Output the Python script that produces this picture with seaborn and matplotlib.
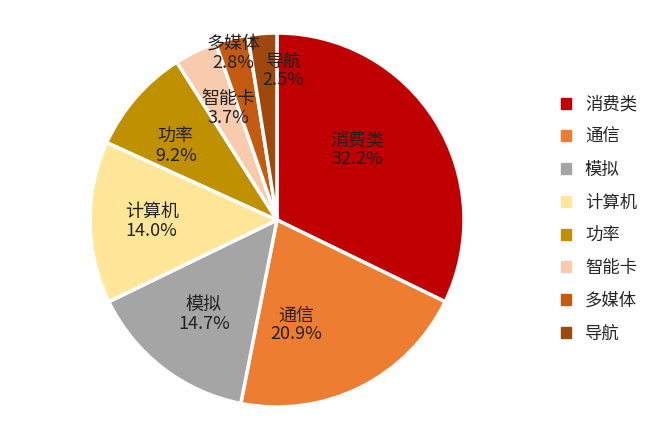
import matplotlib
matplotlib.use("Agg")
import matplotlib.pyplot as plt
import matplotlib.patches as mpatches
import numpy as np
import seaborn as sns

categories = ["消费类", "通信", "模拟", "计算机", "功率", "智能卡", "多媒体", "导航"]
shares = [32.2, 20.9, 14.7, 14.0, 9.2, 3.7, 2.8, 2.5]
colors = ["#C00000", "#ED7D31", "#A5A5A5", "#FFE699", "#BF9000", "#F8CBAD", "#C55A11", "#9E480E"]
# label placement: radius (fraction of pie radius) and angle nudge in degrees
label_dist = [0.57, 0.57, 0.64, 0.67, 0.67, 0.65, 0.92, 0.80]
label_turn = [9, -16, 0, 0, 5, -2, 0.5, -7]

sns.set_theme(style="white")
plt.rcParams["font.family"] = ["Noto Sans CJK SC", "DejaVu Sans"]

fig = plt.figure(figsize=(6.59, 4.43), dpi=100)
ax = fig.add_axes([90 / 659, 36 / 443, 374 / 659, 374 / 443])

wedges, _ = ax.pie(shares, colors=colors, startangle=90, counterclock=False,
                   wedgeprops=dict(edgecolor="white", linewidth=2.5))

for w, name, val, d, t in zip(wedges, categories, shares, label_dist, label_turn):
    ang = np.deg2rad((w.theta1 + w.theta2) / 2 + t)
    ax.text(d * np.cos(ang), d * np.sin(ang), f"{name}\n{val:.1f}%",
            ha="center", va="center", fontsize=13, color="#222222", linespacing=1.05)
ax.set_xlim(-1, 1)
ax.set_ylim(-1, 1)
ax.set_aspect("equal")

handles = [mpatches.Patch(color=c, label=n) for c, n in zip(colors, categories)]
fig.legend(handles=handles, loc="center left", bbox_to_anchor=(545 / 659, 0.506),
           frameon=False, fontsize=12.5, handlelength=0.6, handleheight=0.6,
           handletextpad=0.8, labelspacing=0.85)

fig.savefig("out.png", dpi=100)
